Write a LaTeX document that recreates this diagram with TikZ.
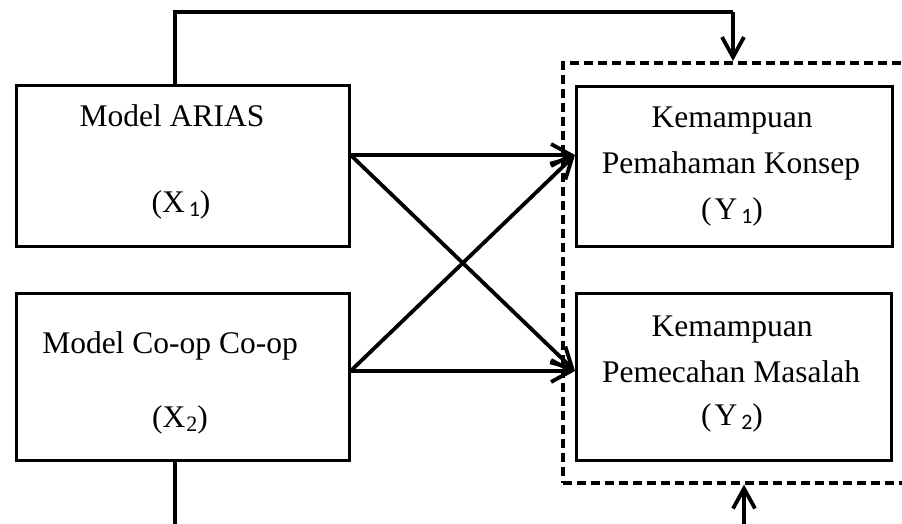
\documentclass[tikz,border=0pt]{standalone}
\usepackage{fontspec}
\setmainfont{Liberation Serif}
\newfontfamily\subfont{Carlito}
\usetikzlibrary{arrows.meta}
% variable label with a lowered index digit
\newcommand{\varsans}[2]{(#1\kern4pt\raisebox{-4pt}{\subfont\fontsize{22}{22}\selectfont #2})}
\newcommand{\varserif}[2]{(#1\kern1pt\raisebox{-4pt}{\fontsize{22}{22}\selectfont #2})}
\newcommand{\varsp}[2]{(\kern3pt#1\kern4pt\raisebox{-4pt}{\subfont\fontsize{22}{22}\selectfont #2})}

\begin{document}
\begin{tikzpicture}[x=1pt,y=-1pt,
  box/.style={draw,line width=2.6pt,inner sep=0pt,anchor=north west},
  grpbox/.style={draw,line width=3.6pt,dash pattern=on 9pt off 5pt,inner sep=0pt,anchor=north west},
  lbl/.style={anchor=base,inner sep=0pt,font=\fontsize{31.5}{38}\selectfont},
  conn/.style={line width=3.8pt},
  arr/.style={conn,-{Straight Barb[length=20pt,width=22pt,line width=3.8pt]}}]

\clip (0,0) rectangle (902,524);
\fill[white] (0,0) rectangle (902,524);

% dashed group round the outcome variables
\node[grpbox,minimum width=400pt,minimum height=420pt] (grp) at (561,61) {};

% boxes
\node[box,minimum width=333pt,minimum height=161pt] (x1) at (15,84) {};
\node[box,minimum width=333pt,minimum height=167pt] (x2) at (15,292) {};
\node[box,minimum width=316pt,minimum height=160pt] (y1) at (575,85) {};
\node[box,minimum width=315pt,minimum height=167pt] (y2) at (575,292) {};

% texts
\node[lbl] (x1a) at (172,127) {Model ARIAS};
\node[lbl] (x1b) at (181,212) {\varsans{X}{1}};
\node[lbl] (x2a) at (170,353) {Model Co-op Co-op};
\node[lbl] (x2b) at (180,427) {\varserif{X}{2}};
\node[lbl] (y1a) at (732,128) {Kemampuan};
\node[lbl] (y1b) at (731,173) {Pemahaman Konsep};
\node[lbl] (y1c) at (732,219) {\varsp{Y}{1}};
\node[lbl] (y2a) at (732,336) {Kemampuan};
\node[lbl] (y2b) at (731,382) {Pemecahan Masalah};
\node[lbl] (y2c) at (732,425) {\varsp{Y}{2}};

% reference heights and free line ends
\coordinate (hA) at (0,155);
\coordinate (hB) at (0,371);
\coordinate (t1) at (175,12);
\coordinate (t2) at (733,12);
\coordinate (b1) at (175,530);
\coordinate (b2) at (744,530);

% paths between the boxes
\draw[arr] (x1.east |- hA) -- (y1.west |- hA);
\draw[arr] (x1.east |- hA) -- (y2.west |- hB);
\draw[arr] (x2.east |- hB) -- (y1.west |- hA);
\draw[arr] (x2.east |- hB) -- (y2.west |- hB);

% outer lines
\draw[conn] (x1.north -| t1) -- (t1) -- (t2);
\draw[arr] (t2) -- (t2 |- grp.north);
\draw[conn] (x2.south -| b1) -- (b1);
\draw[arr] (b2) -- (b2 |- grp.south);
\end{tikzpicture}
\end{document}
